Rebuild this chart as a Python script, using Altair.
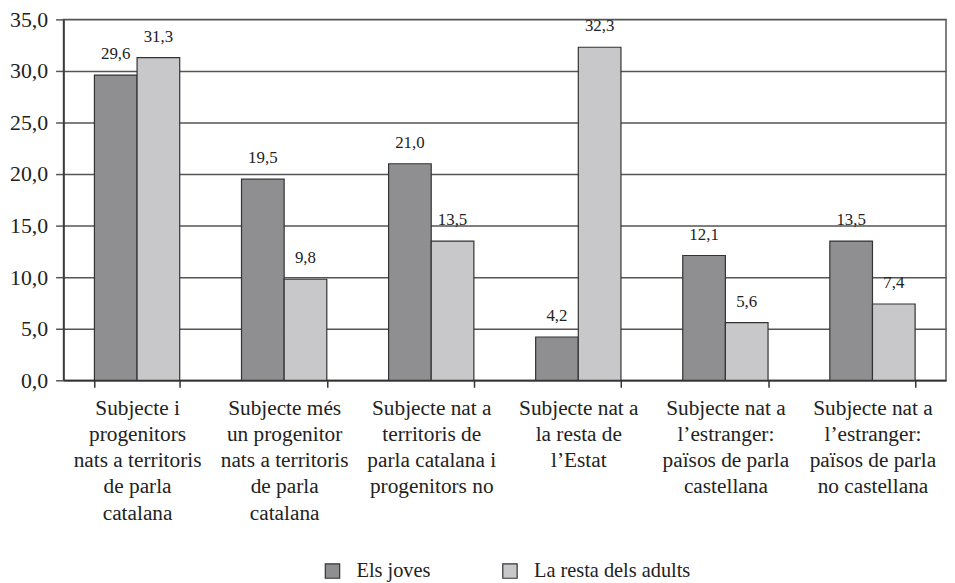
import altair as alt
import pandas as pd

categories = [
    "Subjecte i|progenitors|nats a territoris|de parla|catalana",
    "Subjecte més|un progenitor|nats a territoris|de parla|catalana",
    "Subjecte nat a|territoris de|parla catalana i|progenitors no",
    "Subjecte nat a|la resta de|l’Estat",
    "Subjecte nat a|l’estranger:|països de parla|castellana",
    "Subjecte nat a|l’estranger:|països de parla|no castellana",
]
series = ["Els joves", "La resta dels adults"]
joves = [29.6, 19.5, 21.0, 4.2, 12.1, 13.5]
adults = [31.3, 9.8, 13.5, 32.3, 5.6, 7.4]

rows = []
for c, j, a in zip(categories, joves, adults):
    rows.append({"cat": c, "serie": series[0], "value": j})
    rows.append({"cat": c, "serie": series[1], "value": a})
df = pd.DataFrame(rows)

FONT = "Liberation Serif"
DARK = "#333333"

x = alt.X("cat:N", sort=categories, title=None,
          scale=alt.Scale(paddingInner=0.42, paddingOuter=0.21),
          axis=alt.Axis(labelExpr="split(datum.label, '|')", labelAngle=0,
                        tickBand="extent", tickSize=7, tickColor=DARK,
                        domainColor=DARK, domainWidth=1.5, tickWidth=1.5,
                        labelFont=FONT, labelFontSize=21.5, labelLineHeight=26.5,
                        labelColor="#222222", labelPadding=10, labelLimit=200))
xoff = alt.XOffset("serie:N", sort=series, scale=alt.Scale(paddingInner=0, paddingOuter=0))

base = alt.Chart(df)

bars = base.mark_bar(stroke=DARK, strokeWidth=1.2).encode(
    x=x,
    xOffset=xoff,
    y=alt.Y("value:Q", title=None,
            scale=alt.Scale(domain=[0, 35], nice=False),
            axis=alt.Axis(values=[0, 5, 10, 15, 20, 25, 30, 35],
                          labelExpr="replace(format(datum.value, '.1f'), '.', ',')",
                          grid=True, gridColor="#555555", gridWidth=1.5,
                          tickSize=8, tickColor="#555555", tickWidth=1.5,
                          domainColor=DARK, domainWidth=1.5,
                          labelFont=FONT, labelFontSize=22, labelColor="#222222",
                          labelPadding=8)),
    color=alt.Color("serie:N", sort=series,
                    scale=alt.Scale(domain=series, range=["#8f8f92", "#c8c8ca"]),
                    legend=alt.Legend(title=None, orient="none", legendX=261, legendY=546,
                                      direction="horizontal", symbolType="square",
                                      symbolSize=210, symbolStrokeColor=DARK,
                                      symbolStrokeWidth=1.2, labelFont=FONT,
                                      labelFontSize=20.5, labelColor="#222222",
                                      columnPadding=69, labelOffset=14)),
)

labels = base.transform_calculate(
    txt="replace(format(datum.value, '.1f'), '.', ',')"
).mark_text(baseline="bottom", dy=-12, font=FONT, fontSize=17, color="#222222").encode(
    x=x,
    xOffset=xoff,
    y=alt.Y("value:Q"),
    text="txt:N",
)

chart = alt.layer(bars, labels).properties(
    width=890, height=364,
    autosize=alt.AutoSizeParams(type="none"),
    padding={"left": 56, "top": 9, "right": 1, "bottom": 208},
).configure(font=FONT).configure_view(stroke="#555555", strokeWidth=1.5)

chart.save("out.html", embed_options={"renderer": "svg", "actions": False})
